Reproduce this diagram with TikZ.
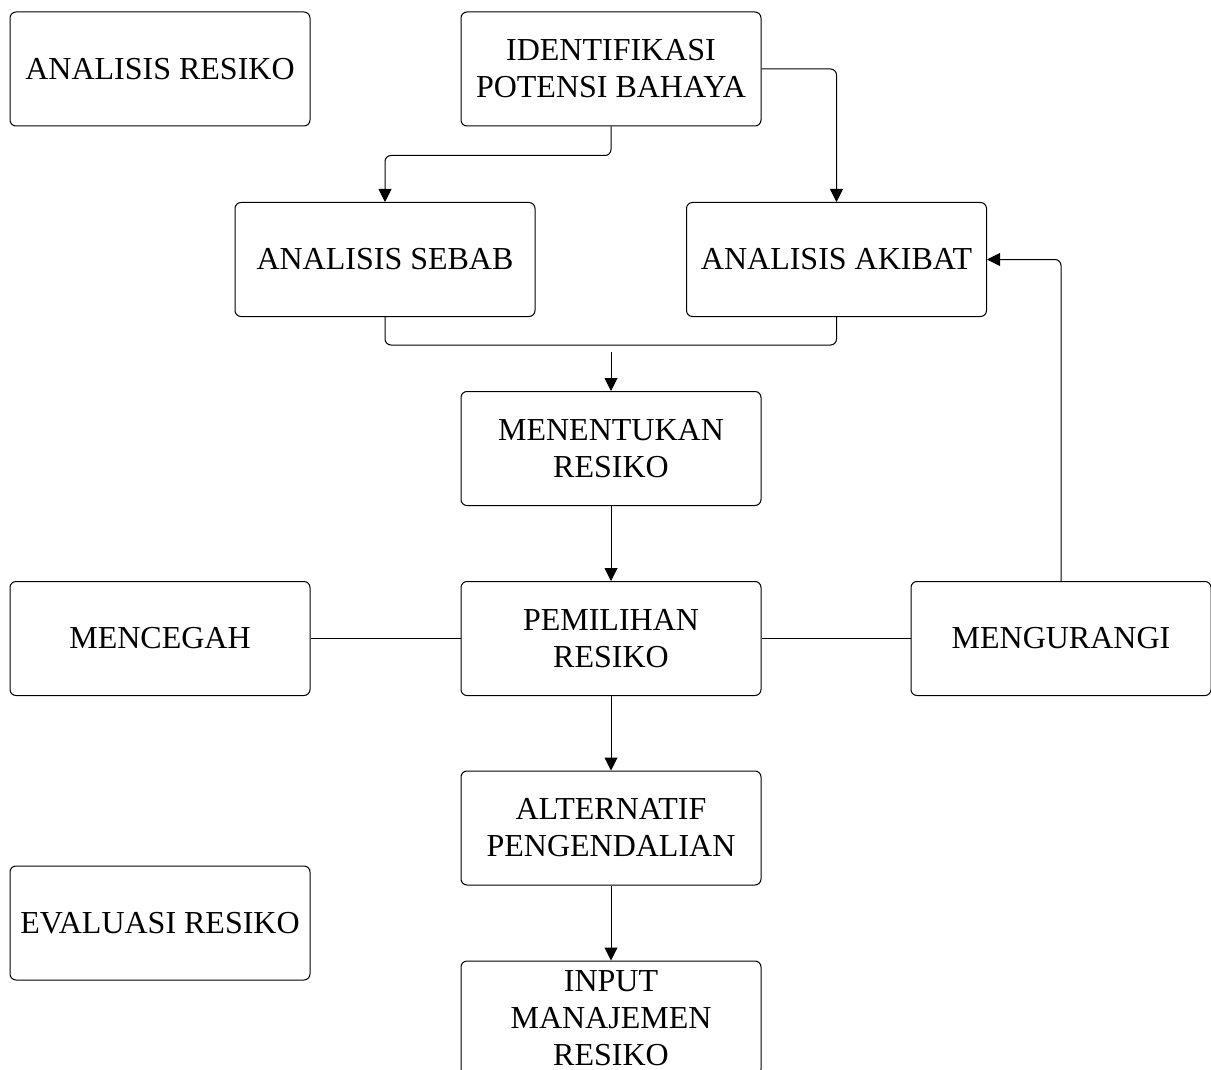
\documentclass[tikz,border=0pt]{standalone}
\usepackage{fontspec}
\setmainfont{Liberation Serif}
\usetikzlibrary{arrows.meta}
\begin{document}
\begin{tikzpicture}[x=1pt,y=-1pt,
  box/.style={draw=black,line width=1pt,rounded corners=6pt,minimum width=300pt,
    minimum height=114pt,align=center,inner sep=0pt,
    font=\fontsize{32}{37}\selectfont},
  link/.style={draw=black,line width=1pt,rounded corners=6pt},
  arr/.style={link,-{Triangle[width=13pt,length=13pt]}}]
\clip (0,0) rectangle (1211,1070);
\fill[white] (0,0) rectangle (1211,1070);

\node[box] (ar)    at (160,69)    {ANALISIS RESIKO};
\node[box] (id)    at (611,69)    {IDENTIFIKASI\\POTENSI BAHAYA};
\node[box] (sebab) at (385,259.5) {ANALISIS SEBAB};
\node[box] (akib)  at (836.5,259.5) {ANALISIS AKIBAT};
\node[box] (men)   at (611,448.5) {MENENTUKAN\\RESIKO};
\node[box] (cgh)   at (160,638.5) {MENCEGAH};
\node[box] (pem)   at (611,638.5) {PEMILIHAN\\RESIKO};
\node[box] (kur)   at (1061,638.5) {MENGURANGI};
\node[box] (alt)   at (611,828)   {ALTERNATIF\\PENGENDALIAN};
\node[box] (ev)    at (160,923)   {EVALUASI RESIKO};
\node[box] (inp)   at (611,1018)  {INPUT\\MANAJEMEN\\RESIKO};

\coordinate (join) at (611,352);

\draw[arr] (id.south) -- ++(0,29) -| (sebab.north);
\draw[arr] (id.east) -| (akib.north);
\draw[link] (sebab.south) -- ++(0,28) -| (akib.south);
\draw[arr] (join) -- (men.north);
\draw[arr] (men.south) -- (pem.north);
\draw[link] (cgh.east) -- (pem.west);
\draw[link] (pem.east) -- (kur.west);
\draw[arr] (kur.north) |- (akib.east);
\draw[arr] (pem.south) -- (alt.north);
\draw[arr] (alt.south) -- (inp.north);
\end{tikzpicture}
\end{document}
